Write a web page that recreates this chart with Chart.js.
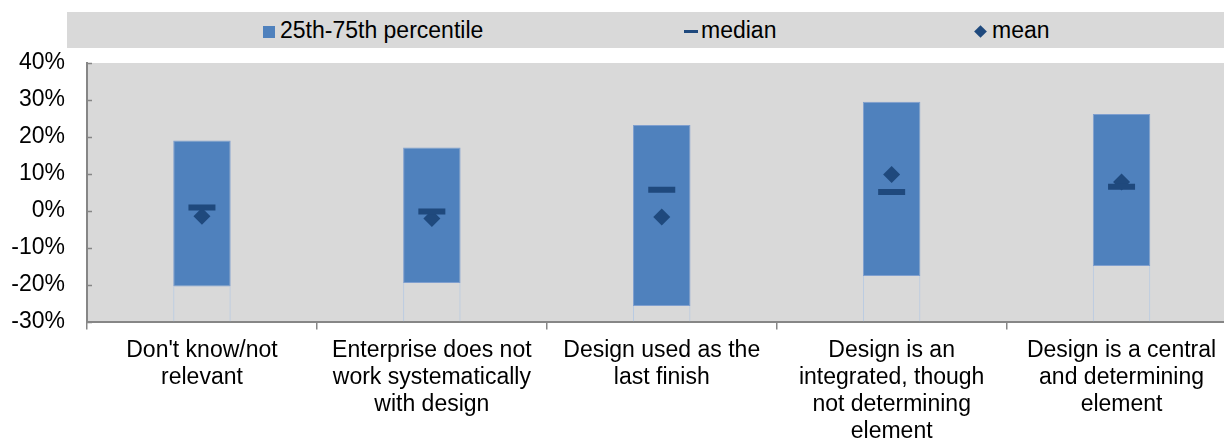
<!DOCTYPE html>
<html>
<head>
<meta charset="utf-8">
<script src="https://cdn.jsdelivr.net/npm/chart.js@4"></script>
<style>
  body { margin: 0; background: #fff; }
  #wrap { position: relative; width: 1224px; height: 443px; overflow: hidden; }
  #chart { position: absolute; left: 0; top: 0; }
  #legend {
    position: absolute; left: 67px; top: 12px; width: 1157px; height: 36px;
    background: #d9d9d9; font: 23px "Liberation Sans", Arial, sans-serif; color: #000;
  }
  .item { position: absolute; top: 0; height: 36px; line-height: 36px; white-space: nowrap; }
  .item span { display: inline-block; vertical-align: middle; }
  .sw-box { width: 12px; height: 12px; background: #4f81bd; margin-right: 5px; }
  .sw-dash { width: 14px; height: 3px; background: #1f497d; margin-right: 3px; }
  .sw-dia { width: 9px; height: 9px; background: #1f497d; transform: rotate(45deg); margin: 0 7px 0 2px; }
</style>
</head>
<body>
<div id="wrap">
  <canvas id="chart" width="1256" height="443"></canvas>
  <div id="legend">
    <div class="item" style="left:196px"><span class="sw-box"></span>25th-75th percentile</div>
    <div class="item" style="left:617px"><span class="sw-dash"></span>median</div>
    <div class="item" style="left:907px"><span class="sw-dia"></span>mean</div>
  </div>
</div>
<script>
// Categories (multi-line labels)
const categories = [
    ["Don't know/not", "relevant"],
    ["Enterprise does not", "work systematically", "with design"],
    ["Design used as the", "last finish"],
    ["Design is an", "integrated, though", "not determining", "element"],
    ["Design is a central", "and determining", "element"]
];

// Values in percent
const p25 = [-20.5, -19.6, -25.8, -17.7, -15.0];
const p75 = [19.0, 17.1, 23.2, 29.5, 26.2];
const median = [0.9, -0.2, 5.7, 5.1, 6.5];
const mean = [-1.5, -2.1, -1.7, 9.8, 7.8];

const axisMin = -30;
const axisMax = 40;

const iqrBars = p25.map((v, i) => [v, p75[i]]);
const baseBars = p25.map(v => [axisMin, v]);

// Plot area background
const plotBg = {
    id: 'plotBg',
    beforeDraw(chart) {
        const { ctx, chartArea } = chart;
        ctx.save();
        ctx.fillStyle = '#d9d9d9';
        ctx.fillRect(chartArea.left, chartArea.top, chartArea.right - chartArea.left, chartArea.bottom - chartArea.top);
        ctx.restore();
    }
};

// Small tick marks pointing inside the plot on the y axis
const innerTicks = {
    id: 'innerTicks',
    afterDraw(chart) {
        const { ctx } = chart;
        const y = chart.scales.y;
        ctx.save();
        ctx.strokeStyle = '#868686';
        ctx.lineWidth = 1.5;
        y.ticks.forEach(t => {
            const py = Math.round(y.getPixelForValue(t.value)) + 0.5;
            ctx.beginPath();
            ctx.moveTo(y.right, py);
            ctx.lineTo(y.right + 5, py);
            ctx.stroke();
        });
        ctx.restore();
    }
};

const ctx = document.getElementById('chart').getContext('2d');
new Chart(ctx, {
    type: 'bar',
    data: {
        labels: categories,
        datasets: [
            {
                type: 'line',
                label: 'median',
                data: median,
                showLine: false,
                pointStyle: 'line',
                pointRadius: 13.5,
                pointHoverRadius: 13.5,
                pointBorderWidth: 6,
                borderColor: '#1f497d',
                backgroundColor: '#1f497d'
            },
            {
                type: 'line',
                label: 'mean',
                data: mean,
                showLine: false,
                pointStyle: 'rectRot',
                pointRadius: 8.5,
                pointHoverRadius: 8.5,
                pointBorderWidth: 0,
                borderColor: '#1f497d',
                backgroundColor: '#1f497d'
            },
            {
                label: '25th-75th percentile',
                data: iqrBars,
                grouped: false,
                backgroundColor: '#4f81bd',
                borderColor: '#7f9fcf',
                borderWidth: 1,
                borderSkipped: false,
                barPercentage: 0.25,
                categoryPercentage: 1
            },
            {
                label: 'base',
                data: baseBars,
                grouped: false,
                backgroundColor: 'rgba(0,0,0,0)',
                borderColor: '#b9cbe2',
                borderWidth: { left: 1, right: 1, top: 0, bottom: 0 },
                borderSkipped: false,
                barPercentage: 0.25,
                categoryPercentage: 1
            }
        ]
    },
    options: {
        responsive: false,
        animation: false,
        layout: { padding: { left: 0, right: 0, top: 63, bottom: 0 } },
        plugins: {
            legend: { display: false },
            tooltip: { enabled: false }
        },
        scales: {
            x: {
                offset: true,
                grid: {
                    offset: true,
                    drawOnChartArea: false,
                    tickLength: 8,
                    color: '#868686',
                    lineWidth: 1.5
                },
                border: { color: '#868686', width: 2 },
                ticks: {
                    color: '#000',
                    padding: 8,
                    maxRotation: 0,
                    autoSkip: false,
                    font: { family: 'Liberation Sans', size: 23, lineHeight: 1.174 }
                },
                afterFit(scale) { scale.height = 121.5; }
            },
            y: {
                min: axisMin,
                max: axisMax,
                grid: { display: false, drawTicks: false, tickLength: 0 },
                border: { color: '#868686', width: 2 },
                ticks: {
                    stepSize: 10,
                    color: '#000',
                    padding: 22,
                    font: { family: 'Liberation Sans', size: 23 },
                    callback: v => v + '%'
                },
                afterFit(scale) { scale.width = 87; }
            }
        }
    },
    plugins: [plotBg, innerTicks]
});
</script>
</body>
</html>
